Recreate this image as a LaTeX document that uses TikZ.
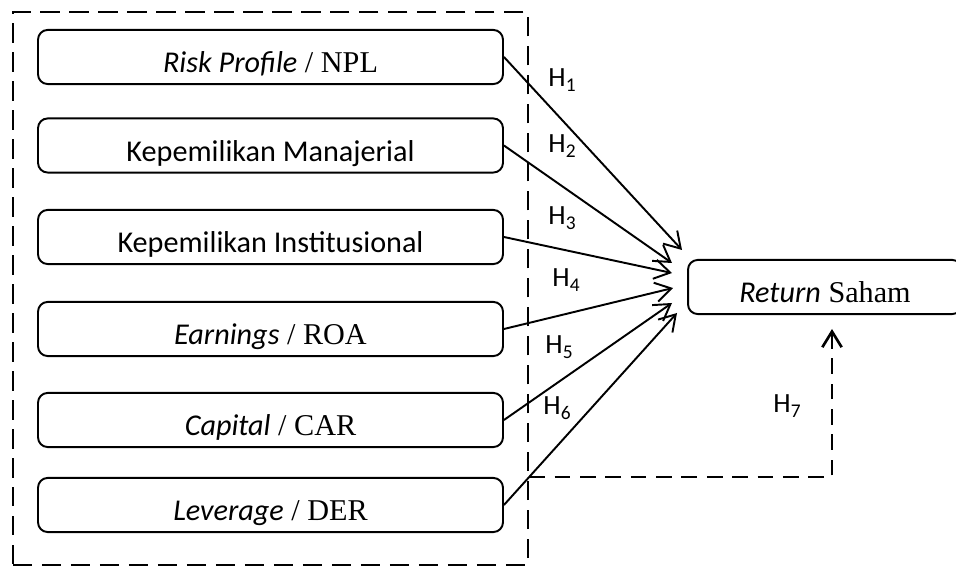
\documentclass[tikz,border=0pt]{standalone}
\usepackage{fontspec}
\setmainfont{Liberation Serif}
\newfontfamily\calibri{Carlito}
\usetikzlibrary{arrows.meta}

\tikzset{
  varbox/.style={draw, line width=0.8pt, rounded corners=4pt,
    minimum width=192.5pt, minimum height=22.4pt,
    text height=13pt, text depth=0pt, inner sep=0pt},
  groupbox/.style={draw, line width=1.1pt, dash pattern=on 8pt off 4pt,
    minimum width=213.2pt, minimum height=228.9pt, inner sep=0pt},
  hyp/.style={line width=0.8pt, -{Straight Barb[length=6.5pt,width=8pt]}},
  hyplabel/.style={anchor=base west, inner sep=0pt,
    font=\calibri\fontsize{11.5}{13}\selectfont}
}

\begin{document}
\begin{tikzpicture}[x=0.414pt, y=-0.414pt, font=\fontsize{12.5}{14}\selectfont]

% Canvas
\useasboundingbox (0,0) rectangle (956,567);
\clip (0,0) rectangle (956,567);

% Dashed group (left)
\node[groupbox] (grp) at (270.5,288.5) {};

% Independent variables
\node[varbox] (npl) at (270.5,57) {{\calibri\itshape Risk Profile} / NPL};
\node[varbox] (man) at (270.5,145.5) {\calibri Kepemilikan Manajerial};
\node[varbox] (ins) at (270.5,237) {\calibri Kepemilikan Institusional};
\node[varbox] (roa) at (270.5,329) {{\calibri\itshape Earnings} / ROA};
\node[varbox] (car) at (270.5,420) {{\calibri\itshape Capital} / CAR};
\node[varbox] (der) at (270.5,505) {{\calibri\itshape Leverage} / DER};

% Dependent variable (runs off the right edge)
\node[varbox, minimum width=113.4pt] (ret) at (825,287) {{\calibri\itshape Return} Saham};

% Arrow tips
\coordinate (t1) at (682,250);
\coordinate (t2) at (672,263);
\coordinate (t3) at (672,273);
\coordinate (t4) at (673,288);
\coordinate (t5) at (672,303);
\coordinate (t6) at (677,313);
\coordinate (t7) at (832,329);

% Hypotheses H1 - H6
\draw[hyp] (npl.east) -- (t1);
\draw[hyp] (man.east) -- (t2);
\draw[hyp] (ins.east) -- (t3);
\draw[hyp] (roa.east) -- (t4);
\draw[hyp] (car.east) -- (t5);
\draw[hyp] (der.east) -- (t6);

% Simultaneous hypothesis H7
\draw[hyp, line width=1.1pt, dash pattern=on 6.5pt off 4pt] (grp.east |- 0,477) -| (t7);

% Labels
\node[hyplabel] (lh1) at (548,87) {H\textsubscript{1}};
\node[hyplabel] (lh2) at (548,153) {H\textsubscript{2}};
\node[hyplabel] (lh3) at (548,225) {H\textsubscript{3}};
\node[hyplabel] (lh4) at (552,287) {H\textsubscript{4}};
\node[hyplabel] (lh5) at (545,354) {H\textsubscript{5}};
\node[hyplabel] (lh6) at (543,415) {H\textsubscript{6}};
\node[hyplabel] (lh7) at (773,413) {H\textsubscript{7}};

\end{tikzpicture}
\end{document}
